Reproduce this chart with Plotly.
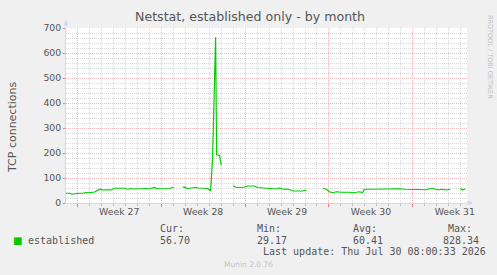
import plotly.graph_objects as go

# ---- data (hours since start of Week 27, connections); None = gap ----
hours = [-23, -15, -11, -7, -3, 5, 13, 17, 23, 29, 35, 39, 45, 51, 57, 63, 67, 71, 75,
         85, 95, 101, 107, 113, 119, 125, 131, 137, 143, 149, 155, 159, 165, 171, 177,
         185, 191, 193, 200,
         211, 215, 219, 225, 231, 237, 243, 249, 255, 261, 265, 267, 271, 277, 279,
         284, 285, 288, 300,
         312, 317, 323, 327, 333, 341, 355, 361, 369, 381, 389, 397, 405, 413, 421,
         427, 433, 451, 459, 475,
         492, 499, 505, 511, 519, 529, 545, 551, 559, 565, 571, 575, 585, 605, 615,
         621, 631, 645, 659, 671, 679, 685, 691, 699, 705, 711, 717, 725, 731, 739,
         747, 757,
         767, 771, 777]
established = [39, 39, 35, 36, 39, 39, 39, 42, 41, 42, 44, 49, 55, 52, 54, 53, 52, 57, 59,
               59, 59, 55, 58, 56, 57, 59, 57, 58, 56, 58, 62, 57, 57, 58, 57,
               58, 62, 62, None,
               63, 64, 58, 60, 60, 62, 60, 59, 60, 58, 52, 48, 185, 663, 193,
               193, 190, 152, None,
               69, 63, 62, 62, 63, 68, 68, 62, 61, 60, 59, 56, 60, 55, 56,
               53, 48, 48, 52, None,
               59, 55, 45, 41, 45, 43, 43, 41, 43, 45, 42, 55, 55, 56, 56,
               57, 56, 57, 55, 55, 53, 52, 55, 53, 57, 59, 55, 53, 55, 52,
               55, None,
               59, 52, 56]

week_bounds = [0, 168, 336, 504, 672]
week_centers = [84, 252, 420, 588, 756]
week_labels = ["Week 27", "Week 28", "Week 29", "Week 30", "Week 31"]
y_ticks = [0, 100, 200, 300, 400, 500, 600, 700]

legend_name = "established"
stat_heads = ["Cur:", "Min:", "Avg:", "Max:"]
stat_vals = ["56.70", "29.17", "60.41", "828.34"]
last_update = "Last update: Thu Jul 30 08:00:33 2026"

W, H = 497, 275
L, R, T, B = 66, 30, 28, 72
PW, PH = W - L - R, H - T - B
XR = [-22.6, 780.4]

FONT = "DejaVu Sans"
MONO = "DejaVu Sans Mono"
FC = "#666666"
AXC = "#CFD6F8"
MINOR = "#d8d8d8"
MAJOR = "#eebcbc"


def px(x):
    return (x - L) / PW


def py(y):
    return (H - B - y) / PH


fig = go.Figure()
fig.add_trace(go.Scatter(x=hours, y=established, mode="lines",
                         line=dict(color="#00CC00", width=1.2),
                         connectgaps=False, showlegend=False, hoverinfo="skip"))
# invisible trace to anchor the week-grid axis
fig.add_trace(go.Scatter(x=[XR[0]], y=[0], xaxis="x2", mode="markers",
                         marker=dict(opacity=0), showlegend=False, hoverinfo="skip"))

fig.update_layout(
    width=W, height=H,
    margin=dict(l=L, r=R, t=T, b=B, pad=0),
    paper_bgcolor="#F0F0F0", plot_bgcolor="#FFFFFF",
    font=dict(family=FONT, color=FC, size=9.3),
    xaxis=dict(range=XR, tickvals=week_centers, ticktext=week_labels,
               showgrid=False, zeroline=False, ticks="", ticklen=0,
               tickfont=dict(size=9.3, color="#555555"),
               showline=True, linecolor=AXC, linewidth=1,
               minor=dict(tick0=0, dtick=24, showgrid=True, gridcolor=MINOR,
                          griddash="1px,1px", gridwidth=1,
                          ticks="outside", ticklen=2, tickcolor="#bbbbbb")),
    xaxis2=dict(range=XR, overlaying="x", anchor="y", side="bottom",
                tickvals=week_bounds, showticklabels=False,
                showgrid=True, gridcolor=MAJOR, griddash="1px,1px", gridwidth=1,
                ticks="outside", ticklen=3, tickcolor="#e08080",
                zeroline=False, showline=False),
    yaxis=dict(range=[0, 700], tickvals=y_ticks, showgrid=True, gridcolor=MAJOR,
               griddash="1px,1px", gridwidth=1, zeroline=False,
               ticks="outside", ticklen=2, tickcolor="#e08080",
               tickfont=dict(size=9.3, color="#555555"),
               showline=True, linecolor=AXC, linewidth=1,
               minor=dict(dtick=20, showgrid=True, gridcolor=MINOR,
                          griddash="1px,1px", gridwidth=1)),
)

ann = []
# title
ann.append(dict(text="Netstat, established only - by month", x=px(250), y=py(17),
                xref="paper", yref="paper", showarrow=False,
                font=dict(size=12.6, color="#555555", family=FONT),
                xanchor="center", yanchor="middle"))
# y-axis title
ann.append(dict(text="TCP connections", x=px(12), y=py(128), xref="paper", yref="paper",
                showarrow=False, textangle=-90,
                font=dict(size=11, color="#555555", family=FONT),
                xanchor="center", yanchor="middle"))
# rrdtool watermark
ann.append(dict(text="RRDTOOL / TOBI OETIKER", x=px(490), y=py(57), xref="paper",
                yref="paper", showarrow=False, textangle=90,
                font=dict(size=6.5, color="#c0c0c0", family=FONT),
                xanchor="center", yanchor="middle"))
# axis arrows
ann.append(dict(text="", x=px(473), y=0, xref="paper", yref="paper", ax=-8, ay=0,
                axref="pixel", ayref="pixel", showarrow=True, arrowhead=2,
                arrowsize=1, arrowwidth=1, arrowcolor=AXC))
ann.append(dict(text="", x=0, y=py(20), xref="paper", yref="paper", ax=0, ay=9,
                axref="pixel", ayref="pixel", showarrow=True, arrowhead=2,
                arrowsize=1, arrowwidth=1, arrowcolor=AXC))
# legend
ann.append(dict(text="■", x=px(17), y=py(240), xref="paper", yref="paper",
                showarrow=False, font=dict(size=10, color="#00CC00", family=FONT),
                xanchor="center", yanchor="middle"))
ann.append(dict(text=legend_name, x=px(26), y=py(240), xref="paper", yref="paper",
                showarrow=False, font=dict(size=10, color="#555555", family=MONO),
                xanchor="left", yanchor="middle"))
head_x = [158, 255, 351, 446]
val_x = [158, 255, 351, 441]
for hx, vx, h, v in zip(head_x, val_x, stat_heads, stat_vals):
    ann.append(dict(text=h, x=px(hx), y=py(228.5), xref="paper", yref="paper",
                    showarrow=False, font=dict(size=10, color="#555555", family=MONO),
                    xanchor="left", yanchor="middle"))
    ann.append(dict(text=v, x=px(vx), y=py(240), xref="paper", yref="paper",
                    showarrow=False, font=dict(size=10, color="#555555", family=MONO),
                    xanchor="left", yanchor="middle"))
ann.append(dict(text=last_update, x=px(261), y=py(251.7), xref="paper", yref="paper",
                showarrow=False, font=dict(size=10, color="#555555", family=MONO),
                xanchor="left", yanchor="middle"))
ann.append(dict(text="Munin 2.0.76", x=px(248), y=py(264), xref="paper", yref="paper",
                showarrow=False, font=dict(size=7.5, color="#c4c4c4", family=FONT),
                xanchor="center", yanchor="middle"))
fig.update_layout(annotations=ann)

fig.write_html("out.html")
